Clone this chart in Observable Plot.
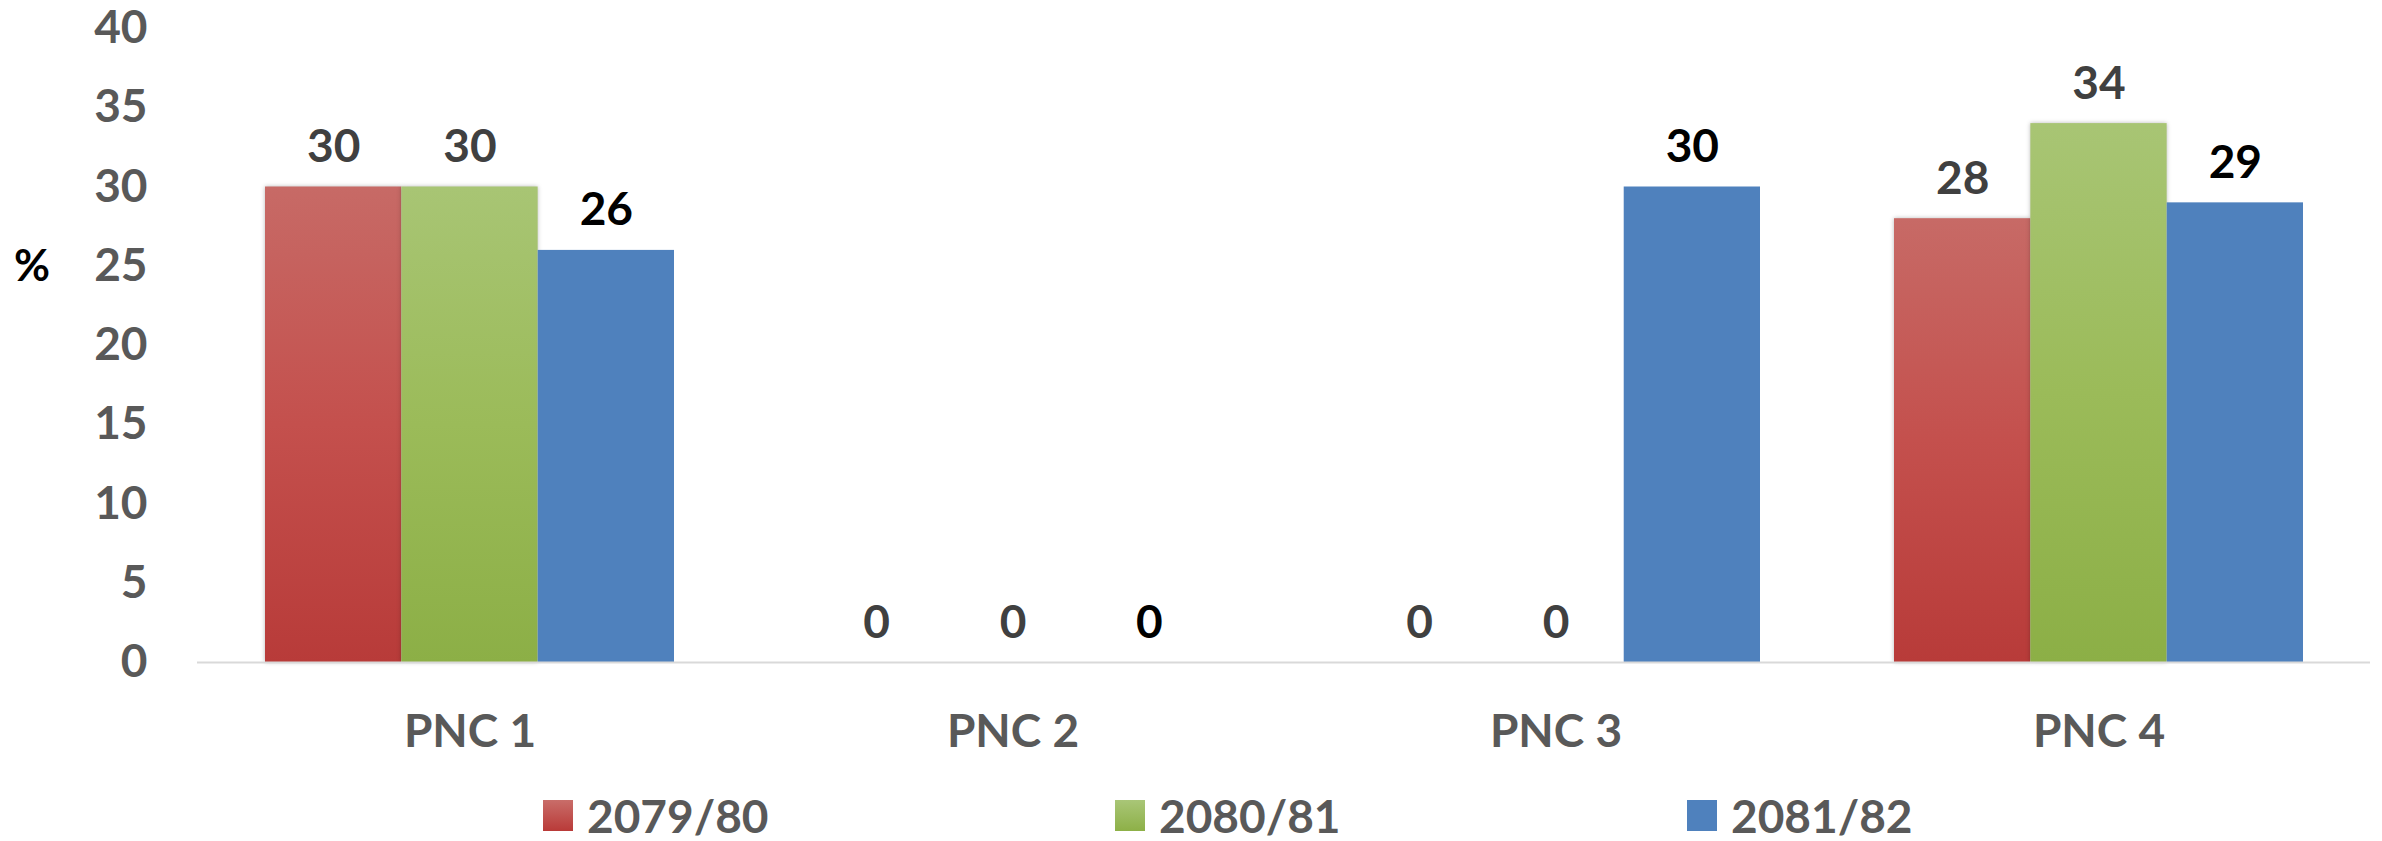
<!DOCTYPE html>
<html>
<head>
<meta charset="utf-8">
<script src="https://cdn.jsdelivr.net/npm/d3@7"></script>
<script src="https://cdn.jsdelivr.net/npm/@observablehq/plot@0.6"></script>
<style>
  html, body { margin: 0; padding: 0; background: #fff; }
  body { width: 2382px; height: 841px; overflow: hidden; font-family: Lato, "Open Sans", sans-serif; font-weight: bold; }
  #wrap { position: relative; width: 2382px; }
  #pct { position: absolute; left: 14px; top: 238px; font-size: 44px; color: #000; font-weight: bold; }
  #legend { position: relative; width: 2382px; height: 71px; }
  .item { position: absolute; top: 20px; height: 50px; display: flex; align-items: center; font-size: 46px; color: #595959; }
  .sw { width: 30px; height: 31px; margin-right: 14px; }
</style>
</head>
<body>
<div id="wrap">
  <div id="chart"></div>
  <div id="pct">%</div>
  <div id="legend"></div>
</div>
<script>
// ---- data ----
const categories = ["PNC 1", "PNC 2", "PNC 3", "PNC 4"];
const seriesNames = ["2079/80", "2080/81", "2081/82"];
const values2079 = [30, 0, 0, 28];
const values2080 = [30, 0, 0, 34];
const values2081 = [26, 0, 30, 29];
const yTicks = [0, 5, 10, 15, 20, 25, 30, 35, 40];

const seriesValues = [values2079, values2080, values2081];
const fills = ["url(#gRed)", "url(#gGreen)", "#4F81BD"];
const labelColors = ["#404040", "#404040", "#000000"];
const legendBg = [
  "linear-gradient(#C96D69, #B93A38)",
  "linear-gradient(#A9C677, #8DB047)",
  "#4F81BD"
];

const W = 2382, H = 770, mL = 197, mR = 12, mT = 28, mB = 108;
const pInner = 0.247, pOuter = 0.1235;
const band = d3.scaleBand(categories, [mL, W - mR]).paddingInner(pInner).paddingOuter(pOuter);
const third = band.bandwidth() / 3;

const tables = seriesValues.map((vals, s) =>
  categories.map((c, i) => ({category: c, series: seriesNames[s], value: vals[i]}))
);

const marks = [];
tables.forEach((rows, s) => {
  marks.push(Plot.barY(rows, {
    x: "category", y: "value", fill: fills[s],
    insetLeft: s * third, insetRight: (2 - s) * third,
    filter: s < 2 ? undefined : undefined,
    className: s < 2 ? "shadowbar" : "flatbar"
  }));
});
marks.push(Plot.ruleY([0], {stroke: "#D9D9D9", strokeWidth: 2}));
tables.forEach((rows, s) => {
  marks.push(Plot.text(rows, {
    x: "category", y: "value", text: d => String(d.value),
    dx: (s - 1) * third, dy: -25, lineAnchor: "bottom",
    fill: labelColors[s], fontSize: 46, fontWeight: "bold"
  }));
});
marks.push(Plot.axisY({ticks: yTicks, tickSize: 0, tickPadding: 50, label: null, fontSize: 46}));
marks.push(Plot.axisX({tickSize: 0, tickPadding: 52, label: null, fontSize: 46}));

const chart = Plot.plot({
  width: W, height: H,
  marginLeft: mL, marginRight: mR, marginTop: mT, marginBottom: mB,
  style: {fontFamily: "Lato, 'Open Sans', sans-serif", fontWeight: "bold", color: "#595959", background: "#fff", overflow: "visible"},
  x: {domain: categories, paddingInner: pInner, paddingOuter: pOuter},
  y: {domain: [0, 40]},
  marks
});

// gradient definitions
const ns = "http://www.w3.org/2000/svg";
const defs = document.createElementNS(ns, "defs");
defs.innerHTML = `
  <linearGradient id="gRed" x1="0" y1="0" x2="0" y2="1">
    <stop offset="0" stop-color="#C76A66"/>
    <stop offset="0.5" stop-color="#C4504D"/>
    <stop offset="1" stop-color="#B83B39"/>
  </linearGradient>
  <linearGradient id="gGreen" x1="0" y1="0" x2="0" y2="1">
    <stop offset="0" stop-color="#A8C574"/>
    <stop offset="0.5" stop-color="#9BBB59"/>
    <stop offset="1" stop-color="#8CAF46"/>
  </linearGradient>`;
chart.insertBefore(defs, chart.firstChild);
chart.querySelectorAll(".shadowbar rect").forEach(r => r.style.filter = "drop-shadow(0px 0px 2px rgba(0,0,0,0.28))");
document.getElementById("chart").appendChild(chart);

// legend
const legendX = [543, 1115, 1687];
const legend = document.getElementById("legend");
seriesNames.forEach((name, i) => {
  const it = document.createElement("div");
  it.className = "item";
  it.style.left = legendX[i] + "px";
  const sw = document.createElement("div");
  sw.className = "sw";
  sw.style.background = legendBg[i];
  const tx = document.createElement("span");
  tx.textContent = name;
  it.appendChild(sw); it.appendChild(tx);
  legend.appendChild(it);
});
</script>
</body>
</html>
